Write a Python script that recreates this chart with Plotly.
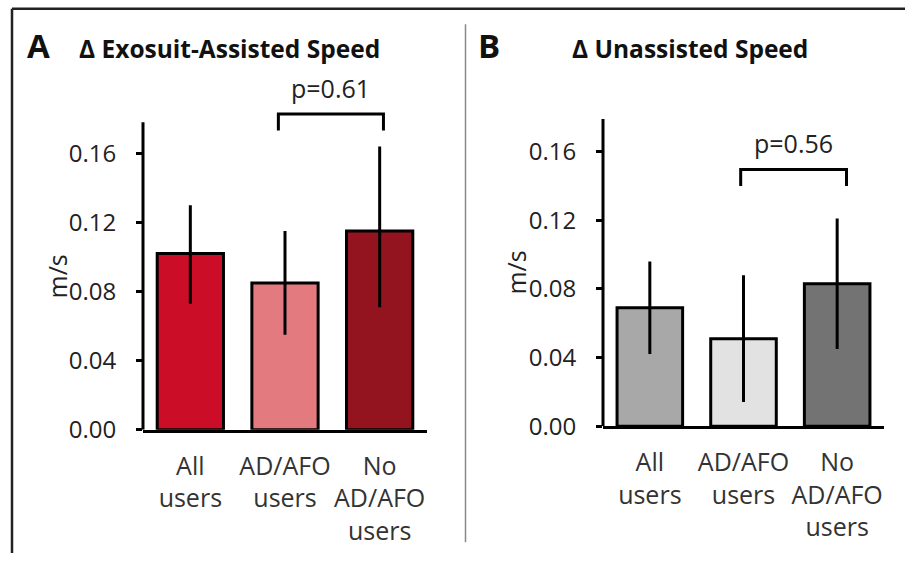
import plotly.graph_objects as go

# ---------------- data ----------------
categories = ["All<br>users", "AD/AFO<br>users", "No<br>AD/AFO<br>users"]

assisted_mean = [0.102, 0.085, 0.115]
assisted_err_plus = [0.028, 0.030, 0.049]
assisted_err_minus = [0.029, 0.030, 0.044]

unassisted_mean = [0.069, 0.051, 0.083]
unassisted_err_plus = [0.027, 0.037, 0.038]
unassisted_err_minus = [0.027, 0.037, 0.038]

y_ticks = [0.00, 0.04, 0.08, 0.12, 0.16]
y_ticktext = ["0.00", "0.04", "0.08", "0.12", "0.16"]

p_assisted = "p=0.61"
p_unassisted = "p=0.56"

colors_a = ["#CC0D27", "#E27A80", "#93141F"]
colors_b = ["#A8A8A8", "#E2E2E2", "#737373"]

FONT = "Open Sans"
FS = 25
W, H = 905, 568
x_idx = [0, 1, 2]

fig = go.Figure()

def add_panel(means, ep, em, colors, xa, ya):
    fig.add_trace(go.Bar(
        x=x_idx, y=means, width=0.7,
        marker=dict(color=colors, line=dict(color="black", width=3)),
        error_y=dict(type="data", symmetric=False, array=ep, arrayminus=em,
                     color="black", thickness=3, width=0),
        xaxis=xa, yaxis=ya, showlegend=False, hoverinfo="skip",
    ))

add_panel(assisted_mean, assisted_err_plus, assisted_err_minus, colors_a, "x", "y")
add_panel(unassisted_mean, unassisted_err_plus, unassisted_err_minus, colors_b, "x2", "y2")

def px_x(p):
    return p / W

def px_y(p):
    return 1 - p / H

YTOP = 0.19
axis_common_y = dict(
    range=[0, YTOP], tickvals=y_ticks, ticktext=y_ticktext,
    ticks="outside", ticklen=6, tickwidth=2.5, tickcolor="black",
    showline=False, showgrid=False, zeroline=False,
    tickfont=dict(family=FONT, size=24, color="#222"),
    ticklabelstandoff=15,
)
axis_common_x = dict(
    range=[-0.5, 2.5], tickvals=x_idx, ticktext=categories,
    showline=True, linecolor="black", linewidth=3,
    ticks="", showgrid=False, zeroline=False,
    tickfont=dict(family=FONT, size=FS, color="#333"),
    ticklabelstandoff=12,
)

# Panel A: zero at 441.5px, 1775 px per unit
a_top = 441.5 - YTOP * 1775
# Panel B: zero at 437.7px, 1762.5 px per unit
b_top = 437.7 - YTOP * 1762.5

fig.update_layout(
    width=W, height=H,
    margin=dict(l=0, r=0, t=0, b=0),
    paper_bgcolor="white", plot_bgcolor="rgba(0,0,0,0)",
    xaxis=dict(domain=[px_x(143), px_x(427)], anchor="y", **axis_common_x),
    yaxis=dict(domain=[px_y(441.5), px_y(a_top)], anchor="x", **axis_common_y),
    xaxis2=dict(domain=[px_x(603), px_x(884)], anchor="y2", **axis_common_x),
    yaxis2=dict(domain=[px_y(437.7), px_y(b_top)], anchor="x2", **axis_common_y),
    bargap=0.3,
)

shapes = []
# y-axis lines (stop at the visible top of the scale)
for yr, top in (("y", 0.178), ("y2", 0.179)):
    xr = "x domain" if yr == "y" else "x2 domain"
    shapes.append(dict(type="line", xref=xr, yref=yr, x0=0, x1=0, y0=0, y1=top,
                       line=dict(color="black", width=3)))

# significance brackets
brackets = [
    ("x", "y", 0.93, 2.04, 0.1828, 0.1732, p_assisted),
    ("x2", "y2", 0.97, 2.10, 0.1496, 0.1400, p_unassisted),
]
annotations = []
for xr, yr, x0, x1, ytop, ybot, ptxt in brackets:
    shapes.append(dict(type="path", xref=xr, yref=yr,
                       path=f"M {x0},{ybot} L {x0},{ytop} L {x1},{ytop} L {x1},{ybot}",
                       line=dict(color="black", width=3)))
    annotations.append(dict(xref=xr, yref=yr, x=(x0 + x1) / 2, y=ytop,
                            yanchor="bottom", xanchor="center", yshift=7,
                            text=ptxt, showarrow=False,
                            font=dict(family=FONT, size=FS, color="#222")))

# frame & separator
shapes.append(dict(type="line", xref="paper", yref="paper", x0=px_x(12), x1=1.0,
                   y0=px_y(9), y1=px_y(9), line=dict(color="#222", width=2.5)))
shapes.append(dict(type="line", xref="paper", yref="paper", x0=px_x(12), x1=px_x(12),
                   y0=px_y(9), y1=0, line=dict(color="#222", width=2.5)))
shapes.append(dict(type="line", xref="paper", yref="paper", x0=px_x(465.5), x1=px_x(465.5),
                   y0=px_y(25), y1=px_y(557), line=dict(color="#888", width=1.5)))

# titles & labels
annotations += [
    dict(xref="paper", yref="paper", x=px_x(25), y=px_y(47), xanchor="left", yanchor="middle",
         text="<b>A</b>", showarrow=False, font=dict(family=FONT, size=33, color="#111")),
    dict(xref="paper", yref="paper", x=px_x(77), y=px_y(50), xanchor="left", yanchor="middle",
         text="<b>Δ Exosuit-Assisted Speed</b>", showarrow=False,
         font=dict(family=FONT, size=24.5, color="#111")),
    dict(xref="paper", yref="paper", x=px_x(476), y=px_y(47), xanchor="left", yanchor="middle",
         text="<b>B</b>", showarrow=False, font=dict(family=FONT, size=33, color="#111")),
    dict(xref="paper", yref="paper", x=px_x(570), y=px_y(50), xanchor="left", yanchor="middle",
         text="<b>Δ Unassisted Speed</b>", showarrow=False,
         font=dict(family=FONT, size=24.5, color="#111")),
    dict(xref="paper", yref="paper", x=px_x(56), y=px_y(284), xanchor="center", yanchor="middle",
         text="m/s", textangle=-90, showarrow=False,
         font=dict(family=FONT, size=FS, color="#222")),
    dict(xref="paper", yref="paper", x=px_x(516), y=px_y(280), xanchor="center", yanchor="middle",
         text="m/s", textangle=-90, showarrow=False,
         font=dict(family=FONT, size=FS, color="#222")),
]

fig.update_layout(shapes=shapes, annotations=annotations)
fig.write_html("out.html", config={"displayModeBar": False},
               post_script="document.body.style.margin='0';document.body.style.overflow='hidden';")
